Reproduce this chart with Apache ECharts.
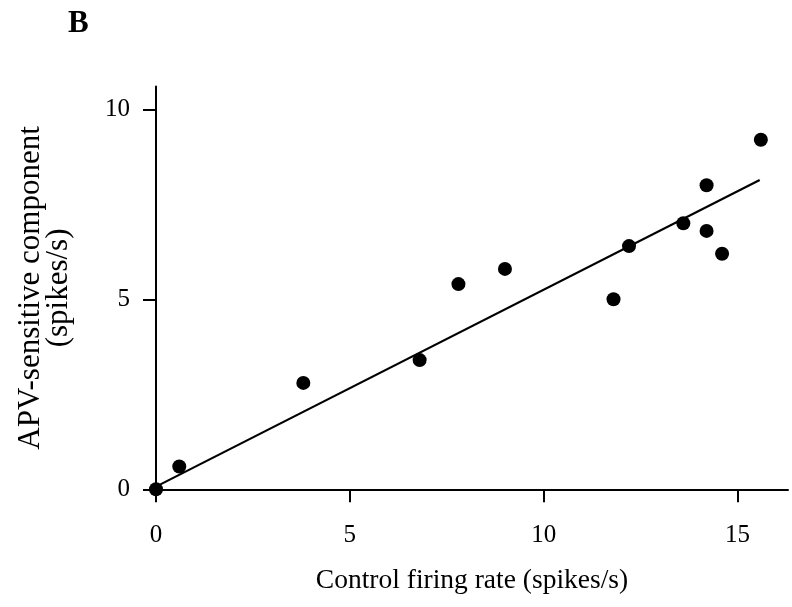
<!DOCTYPE html>
<html>
<head>
<meta charset="utf-8">
<script src="https://cdn.jsdelivr.net/npm/echarts@6/dist/echarts.min.js"></script>
<style>
  html, body { margin: 0; padding: 0; background: #fff; }
  #chart { width: 792px; height: 607px; }
</style>
</head>
<body>
<div id="chart"></div>
<script>
// Control firing rate vs APV-sensitive component (spikes/s)
const controlRate = [0, 0.6, 3.8, 6.8, 7.8, 9.0, 11.8, 12.2, 13.6, 14.2, 14.2, 14.6, 15.6];
const apvComponent = [0, 0.6, 2.8, 3.4, 5.4, 5.8, 5.0, 6.4, 7.0, 8.0, 6.8, 6.2, 9.2];

// Regression line end points
const fitX = [0, 15.57];
const fitY = [0.07, 8.14];

const xTicks = [0, 5, 10, 15];
const yTicks = [0, 5, 10];

const serif = '"Liberation Serif", "DejaVu Serif", serif';

const chart = echarts.init(document.getElementById('chart'));
chart.setOption({
  animation: false,
  backgroundColor: '#fff',
  title: {
    text: 'B',
    left: 63,
    top: 3,
    textStyle: { fontFamily: serif, fontWeight: 'bold', fontSize: 31, color: '#000' }
  },
  grid: { left: 156, right: 4, top: 86.5, bottom: 117.7 },
  xAxis: {
    type: 'value',
    min: 0,
    max: 16.3,
    splitLine: { show: false },
    axisLine: { show: true, onZero: false, lineStyle: { color: '#000', width: 2 } },
    axisTick: { show: true, inside: false, length: 13, customValues: xTicks, lineStyle: { color: '#000', width: 2 } },
    axisLabel: { customValues: xTicks, margin: 34, fontFamily: serif, fontSize: 25, color: '#000' },
    name: 'Control firing rate (spikes/s)',
    nameLocation: 'middle',
    nameGap: 77,
    nameTextStyle: { fontFamily: serif, fontSize: 27.5, color: '#000' }
  },
  yAxis: {
    type: 'value',
    min: 0,
    max: 10.6,
    splitLine: { show: false },
    axisLine: { show: true, onZero: false, lineStyle: { color: '#000', width: 2 } },
    axisTick: { show: true, inside: false, length: 13, customValues: yTicks, lineStyle: { color: '#000', width: 2 } },
    axisLabel: { customValues: yTicks, margin: 26, fontFamily: serif, fontSize: 25, color: '#000' },
    name: 'APV-sensitive component\n(spikes/s)',
    nameLocation: 'middle',
    nameGap: 83,
    nameRotate: 90,
    nameTextStyle: { fontFamily: serif, fontSize: 31, color: '#000', lineHeight: 28 }
  },
  series: [
    {
      type: 'line',
      data: fitX.map((x, i) => [x, fitY[i]]),
      showSymbol: false,
      symbol: 'none',
      lineStyle: { color: '#000', width: 2.2 },
      z: 2
    },
    {
      type: 'scatter',
      data: controlRate.map((x, i) => [x, apvComponent[i]]),
      symbol: 'circle',
      symbolSize: 14,
      itemStyle: { color: '#000', opacity: 1 },
      z: 3
    }
  ]
});
</script>
</body>
</html>
